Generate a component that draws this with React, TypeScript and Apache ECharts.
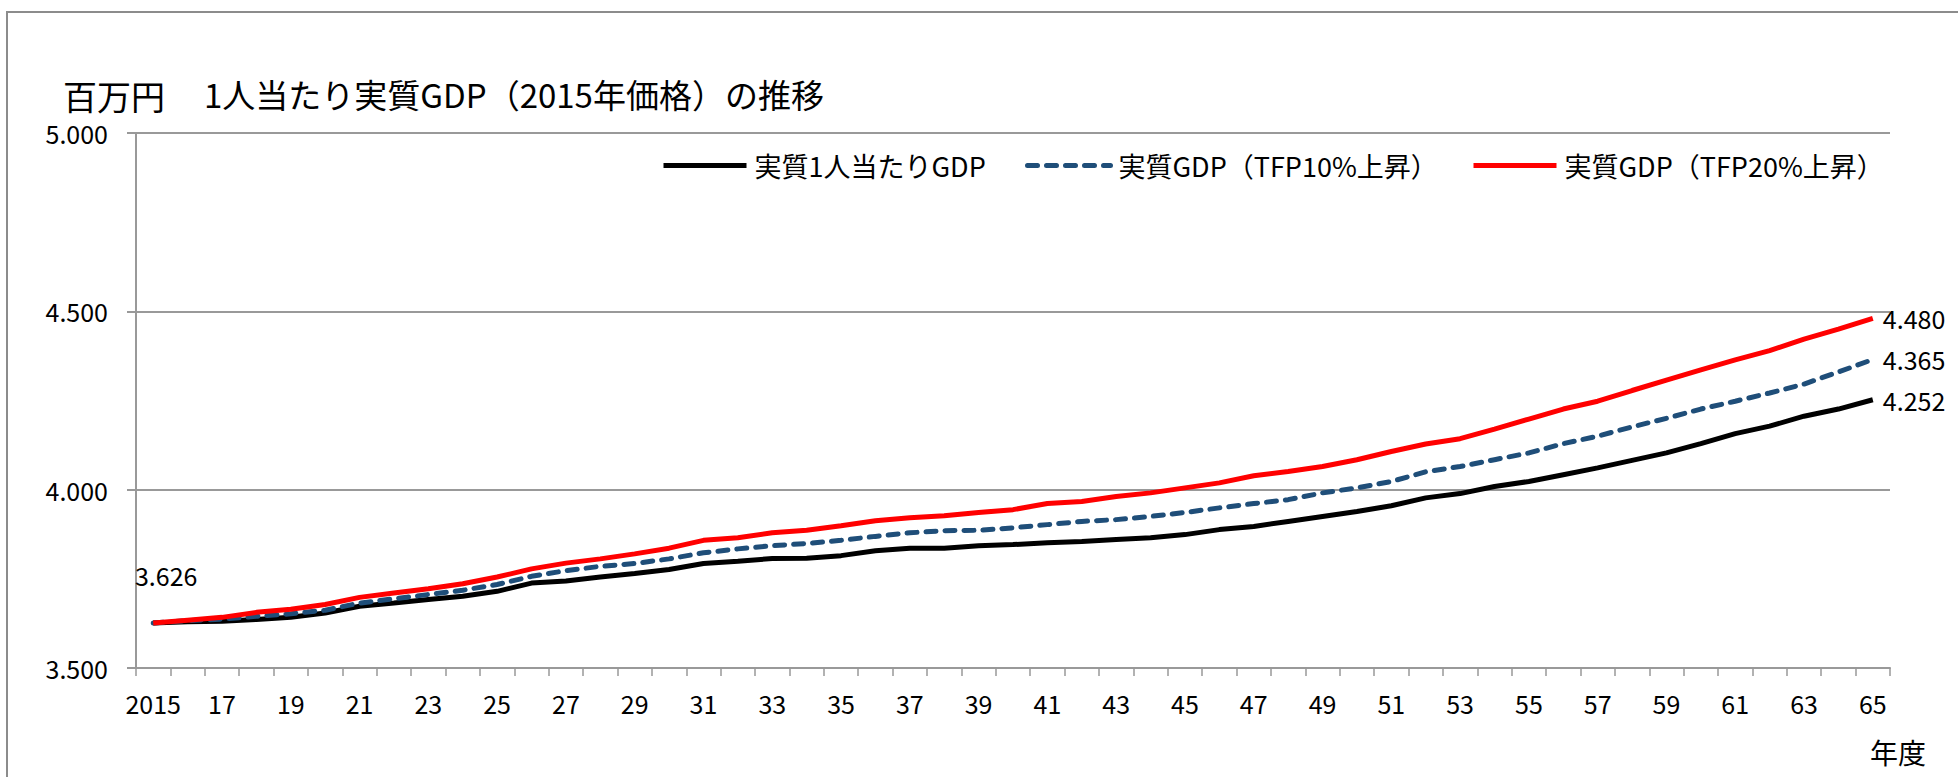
import React, { useEffect, useRef } from "react";
import * as echarts from "echarts";

const categories = [
  "2015", "16", "17", "18", "19", "20", "21", "22", "23", "24",
  "25", "26", "27", "28", "29", "30", "31", "32", "33", "34",
  "35", "36", "37", "38", "39", "40", "41", "42", "43", "44",
  "45", "46", "47", "48", "49", "50", "51", "52", "53", "54",
  "55", "56", "57", "58", "59", "60", "61", "62", "63", "64", "65",
];

const realPerCapita = [
  3.626, 3.630, 3.631, 3.636, 3.642, 3.654, 3.673, 3.682, 3.692, 3.701,
  3.715, 3.738, 3.744, 3.755, 3.765, 3.776, 3.793, 3.799, 3.807, 3.808,
  3.815, 3.829, 3.836, 3.836, 3.843, 3.846, 3.851, 3.855, 3.860, 3.865,
  3.874, 3.888, 3.897, 3.911, 3.925, 3.939, 3.955, 3.977, 3.989, 4.009,
  4.023, 4.042, 4.061, 4.082, 4.103, 4.129, 4.157, 4.178, 4.206, 4.226, 4.252,
];

const tfp10 = [
  3.626, 3.633, 3.637, 3.645, 3.652, 3.662, 3.682, 3.694, 3.706, 3.718,
  3.734, 3.757, 3.773, 3.785, 3.793, 3.806, 3.823, 3.834, 3.843, 3.849,
  3.858, 3.869, 3.879, 3.885, 3.886, 3.893, 3.902, 3.911, 3.916, 3.925,
  3.936, 3.949, 3.961, 3.972, 3.991, 4.005, 4.023, 4.050, 4.065, 4.084,
  4.103, 4.129, 4.150, 4.176, 4.200, 4.226, 4.248, 4.271, 4.296, 4.330, 4.365,
];

const tfp20 = [
  3.626, 3.634, 3.642, 3.656, 3.665, 3.678, 3.698, 3.710, 3.722, 3.736,
  3.755, 3.778, 3.794, 3.806, 3.820, 3.836, 3.858, 3.865, 3.879, 3.886,
  3.899, 3.913, 3.921, 3.927, 3.936, 3.944, 3.961, 3.967, 3.981, 3.991,
  4.005, 4.019, 4.039, 4.051, 4.065, 4.084, 4.107, 4.128, 4.143, 4.170,
  4.198, 4.226, 4.248, 4.278, 4.307, 4.336, 4.364, 4.390, 4.422, 4.450, 4.480,
];

const seriesNames = [
  "実質1人当たりGDP",
  "実質GDP（TFP10%上昇）",
  "実質GDP（TFP20%上昇）",
];

const FONT = "'Noto Sans CJK JP', 'Noto Sans', sans-serif";

function withLabels(values: number[], showFirst: boolean) {
  const last = values.length - 1;
  return values.map((v, i) => {
    if (i === last) {
      return {
        value: v,
        symbol: "circle",
        symbolSize: 0,
        label: { show: true, position: "right", distance: 10 },
      };
    }
    if (i === 0 && showFirst) {
      return {
        value: v,
        symbol: "circle",
        symbolSize: 0,
        label: { show: true, position: "top", distance: 5, offset: [13, -31] },
      };
    }
    return v;
  });
}

export default function App() {
  const ref = useRef<HTMLDivElement>(null);

  useEffect(() => {
    if (!ref.current) return;
    const chart = echarts.init(ref.current, null, { renderer: "svg" });

    const labelStyle = {
      show: false,
      fontSize: 25,
      fontFamily: FONT,
      color: "#000",
      formatter: (p: any) => Number(p.value).toFixed(3),
    };

    const mkLegend = (name: string, left: number) => ({
      data: [name],
      left,
      top: 147,
      itemWidth: 83,
      itemHeight: 4,
      itemStyle: { opacity: 0, borderWidth: 0 },
      lineStyle: { width: 5 },
      textStyle: { fontSize: 27, fontFamily: FONT, color: "#000", padding: [0, 0, 0, 3] },
      selectedMode: false,
    });

    chart.setOption({
      animation: false,
      backgroundColor: "#fff",
      textStyle: { fontFamily: FONT },
      grid: { left: 136, right: 68, top: 133, bottom: 109, containLabel: false },
      legend: [
        mkLegend(seriesNames[0], 656),
        mkLegend(seriesNames[1], 1020),
        mkLegend(seriesNames[2], 1466),
      ],
      xAxis: {
        type: "category",
        data: categories,
        boundaryGap: true,
        axisLine: { show: true, lineStyle: { color: "#999", width: 2 } },
        axisTick: {
          show: true,
          interval: 0,
          alignWithLabel: false,
          length: 8,
          lineStyle: { color: "#999", width: 1.5 },
        },
        axisLabel: {
          interval: 1,
          margin: 22,
          fontSize: 25,
          fontFamily: FONT,
          color: "#000",
        },
        splitLine: { show: false },
      },
      yAxis: {
        type: "value",
        min: 3.5,
        max: 5,
        interval: 0.5,
        axisLine: { show: true, lineStyle: { color: "#999", width: 2 } },
        axisTick: { show: true, length: 9, lineStyle: { color: "#999", width: 2 } },
        axisLabel: {
          margin: 28,
          fontSize: 25,
          fontFamily: FONT,
          color: "#000",
          formatter: (v: number) => v.toFixed(3),
        },
        splitLine: { show: true, lineStyle: { color: "#999", width: 2 } },
      },
      series: [
        {
          name: seriesNames[0],
          type: "line",
          data: withLabels(realPerCapita, true),
          symbol: "none",
          showSymbol: true,
          showAllSymbol: true,
          itemStyle: { color: "#000" },
          lineStyle: { color: "#000", width: 5 },
          label: labelStyle,
          z: 2,
        },
        {
          name: seriesNames[1],
          type: "line",
          data: withLabels(tfp10, false),
          symbol: "none",
          showSymbol: true,
          showAllSymbol: true,
          itemStyle: { color: "#1F4E79" },
          lineStyle: { color: "#1F4E79", width: 5, type: [10, 9], cap: "round" },
          label: labelStyle,
          z: 3,
        },
        {
          name: seriesNames[2],
          type: "line",
          data: withLabels(tfp20, false),
          symbol: "none",
          showSymbol: true,
          showAllSymbol: true,
          itemStyle: { color: "#FF0000" },
          lineStyle: { color: "#FF0000", width: 5 },
          label: labelStyle,
          z: 4,
        },
      ],
      graphic: [
        {
          type: "polyline",
          shape: { points: [[7, 800], [7, 12], [1970, 12]] },
          style: { stroke: "#8c8c8c", lineWidth: 2, fill: null },
          silent: true,
        },
        {
          type: "text",
          x: 63,
          y: 95,
          style: {
            text: "百万円",
            fontSize: 34,
            fontFamily: FONT,
            fill: "#000",
            textVerticalAlign: "middle",
          },
        },
        {
          type: "text",
          x: 204,
          y: 94,
          style: {
            text: "1人当たり実質GDP（2015年価格）の推移",
            fontSize: 33,
            fontFamily: FONT,
            fill: "#000",
            textVerticalAlign: "middle",
          },
        },
        {
          type: "text",
          x: 1870,
          y: 752,
          style: {
            text: "年度",
            fontSize: 28,
            fontFamily: FONT,
            fill: "#000",
            textVerticalAlign: "middle",
          },
        },
      ],
    });

    return () => chart.dispose();
  }, []);

  return (
    <div
      ref={ref}
      style={{ position: "fixed", left: 0, top: 0, width: 1958, height: 777, background: "#fff" }}
    />
  );
}
